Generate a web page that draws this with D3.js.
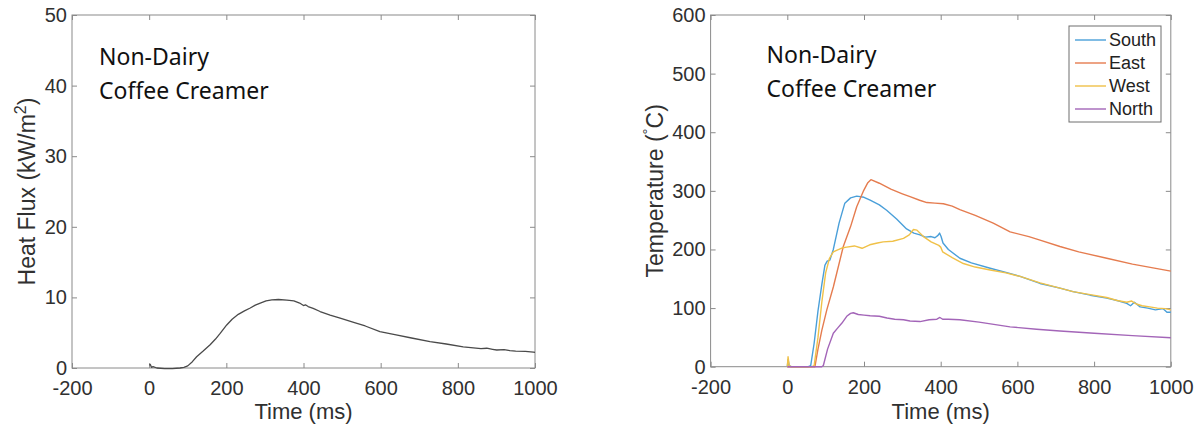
<!DOCTYPE html>
<html>
<head>
<meta charset="utf-8">
<script src="https://cdn.jsdelivr.net/npm/d3@7"></script>
<style>
  html, body { margin: 0; padding: 0; background: #fff; }
  svg { display: block; }
</style>
</head>
<body>
<svg id="chart" width="1201" height="433"></svg>
<script>
// Time axis ticks (ms), shared by both panels
const timeTicks = [-200, 0, 200, 400, 600, 800, 1000];
const fluxTicks = [0, 10, 20, 30, 40, 50];
const tempTicks = [0, 100, 200, 300, 400, 500, 600];

// Heat flux gauge record (kW/m^2)
const fluxTime  = [0, 3, 6, 10, 20, 40, 60, 80, 90, 100, 112, 123, 140, 158, 172, 184, 201, 215, 231, 247, 262, 275, 288, 303, 318, 335, 357, 375, 390, 400, 405, 412, 425, 443, 469, 495, 530, 560, 598, 640, 680, 728, 770, 814, 860, 875, 890, 901, 920, 935, 950, 975, 996, 1000];
const fluxValue = [0.4, 0.5, 0.1, 0.2, 0.0, -0.1, -0.1, 0.0, 0.1, 0.3, 0.9, 1.6, 2.4, 3.3, 4.1, 4.9, 6.1, 6.9, 7.6, 8.1, 8.5, 8.9, 9.2, 9.5, 9.65, 9.7, 9.6, 9.5, 9.2, 8.85, 8.95, 8.7, 8.45, 8.0, 7.5, 7.05, 6.45, 5.95, 5.15, 4.7, 4.25, 3.75, 3.4, 3.0, 2.75, 2.8, 2.65, 2.55, 2.6, 2.45, 2.4, 2.35, 2.25, 2.2];

// Thermocouple records (deg C)
const seriesNames = ["South", "East", "West", "North"];

const southTime = [0, 2, 5, 10, 30, 55, 61, 70, 80, 90, 98, 104, 111, 120, 135, 150, 165, 181, 200, 216, 240, 259, 285, 311, 330, 346, 360, 375, 385, 393, 397, 401, 406, 420, 450, 480, 529, 570, 607, 659, 711, 745, 790, 833, 860, 885, 895, 905, 920, 940, 960, 980, 990, 1000];
const southTemp = [0, 12, 2, 0, 0, 0, 2, 40, 95, 140, 173, 180, 182, 200, 245, 279, 288, 291, 289, 284, 276, 267, 252, 235, 228, 225, 221, 222, 220, 224, 228, 222, 211, 200, 185, 177, 168, 161, 154, 142, 134, 128, 122, 117, 113, 108, 104, 110, 102, 100, 97, 99, 93, 93];

const eastTime = [0, 10, 50, 72, 80, 90, 103, 120, 146, 165, 181, 198, 210, 218, 240, 270, 300, 320, 345, 364, 385, 407, 430, 450, 490, 537, 581, 630, 659, 711, 760, 833, 900, 950, 1000];
const eastTemp = [0, 0, 0, 0, 30, 62, 97, 136, 205, 239, 273, 299, 314, 319, 313, 303, 295, 290, 284, 280, 279, 278, 274, 268, 258, 245, 230, 222, 216, 205, 196, 185, 175, 169, 163];

const westTime = [0, 2, 5, 10, 40, 65, 70, 80, 90, 100, 110, 120, 130, 145, 155, 175, 195, 215, 235, 250, 275, 303, 318, 329, 338, 355, 375, 395, 400, 405, 430, 459, 490, 529, 570, 607, 659, 711, 745, 790, 833, 860, 885, 898, 910, 925, 945, 965, 985, 1000];
const westTemp = [0, 17, 2, 0, 0, 0, 2, 50, 110, 160, 185, 196, 199, 203, 204, 206, 202, 208, 211, 213, 214, 219, 225, 234, 233, 222, 213, 207, 204, 196, 186, 176, 170, 165, 160, 154, 143, 134, 128, 123, 118, 113, 110, 112, 107, 104, 102, 100, 99, 97];

const northTime = [0, 10, 50, 90, 94, 105, 120, 130, 142, 155, 165, 172, 185, 200, 216, 240, 260, 280, 303, 320, 346, 370, 390, 398, 405, 420, 450, 500, 581, 650, 711, 800, 900, 1000];
const northTemp = [0, 0, 0, 0, 2, 30, 57, 65, 74, 86, 91, 92, 89, 88, 87, 86, 83, 81, 80, 78, 77, 80, 81, 84, 81, 81, 80, 76, 68, 64, 61, 57, 53, 49.5];

const seriesColors = ["#4a9fd9", "#e57c4f", "#f0c148", "#a365b8"];

const svg = d3.select("#chart");
const tickFont = "'Liberation Sans', Arial, Helvetica, sans-serif";
const noteFont = "'Noto Sans', 'Open Sans', sans-serif";
const frameColor = "#8a8a8a";
const textColor = "#303030";

function drawPanel(cfg) {
  const x = d3.scaleLinear().domain([-200, 1000]).range([cfg.left, cfg.right]);
  const y = d3.scaleLinear().domain(cfg.yDomain).range([cfg.bottom, cfg.top]);
  const g = svg.append("g");
  const plain = d => String(d);

  const styleAxis = sel => {
    sel.select(".domain").remove();
    sel.selectAll(".tick line").attr("stroke", frameColor);
    sel.selectAll(".tick text")
      .attr("fill", textColor)
      .style("font-family", tickFont)
      .style("font-size", "20px");
  };

  g.append("g").attr("transform", `translate(0,${cfg.bottom})`)
    .call(d3.axisBottom(x).tickValues(timeTicks).tickFormat(plain)
      .tickSizeInner(-5).tickSizeOuter(0).tickPadding(13))
    .call(styleAxis);
  g.append("g").attr("transform", `translate(0,${cfg.top})`)
    .call(d3.axisTop(x).tickValues(timeTicks).tickFormat("")
      .tickSizeInner(-5).tickSizeOuter(0))
    .call(styleAxis);
  g.append("g").attr("transform", `translate(${cfg.left},0)`)
    .call(d3.axisLeft(y).tickValues(cfg.yTicks).tickFormat(plain)
      .tickSizeInner(-5).tickSizeOuter(0).tickPadding(5))
    .call(styleAxis);
  g.append("g").attr("transform", `translate(${cfg.right},0)`)
    .call(d3.axisRight(y).tickValues(cfg.yTicks).tickFormat("")
      .tickSizeInner(-5).tickSizeOuter(0))
    .call(styleAxis);

  // axes box
  g.append("rect")
    .attr("x", cfg.left).attr("y", cfg.top)
    .attr("width", cfg.right - cfg.left).attr("height", cfg.bottom - cfg.top)
    .attr("fill", "none").attr("stroke", frameColor).attr("stroke-width", 1);

  const line = d3.line().x(d => x(d[0])).y(d => y(d[1]));
  cfg.series.forEach(s => {
    g.append("path")
      .datum(d3.zip(s.t, s.v))
      .attr("d", line)
      .attr("fill", "none")
      .attr("stroke", s.color)
      .attr("stroke-width", s.width)
      .attr("stroke-linejoin", "round");
  });

  // x label
  g.append("text")
    .attr("x", (cfg.left + cfg.right) / 2).attr("y", 419)
    .attr("text-anchor", "middle").attr("fill", textColor)
    .style("font-family", tickFont).style("font-size", "22px")
    .text("Time (ms)");

  // y label
  const yl = g.append("text")
    .attr("transform", `translate(${cfg.yLabelX},${(cfg.top + cfg.bottom) / 2}) rotate(-90)`)
    .attr("text-anchor", "middle").attr("fill", textColor)
    .style("font-family", tickFont).style("font-size", "23px");
  cfg.yLabel(yl);

  // note
  const note = g.append("text").attr("fill", "#111")
    .style("font-family", noteFont).style("font-size", "23px");
  note.append("tspan").attr("x", cfg.noteX).attr("y", cfg.noteY).text("Non-Dairy");
  note.append("tspan").attr("x", cfg.noteX).attr("y", cfg.noteY + cfg.noteGap).text("Coffee Creamer");

  return { x, y, g };
}

drawPanel({
  left: 72, right: 535, top: 15, bottom: 368,
  yDomain: [0, 50], yTicks: fluxTicks, yLabelX: 35,
  yLabel: t => {
    t.append("tspan").text("Heat Flux (kW/m");
    t.append("tspan").attr("dy", -9).style("font-size", "16px").text("2");
    t.append("tspan").attr("dy", 9).text(")");
  },
  noteX: 99, noteY: 64.5, noteGap: 34.5,
  series: [{ t: fluxTime, v: fluxValue, color: "#4a4a4a", width: 1.3 }]
});

const right = drawPanel({
  left: 710.6, right: 1170.8, top: 15, bottom: 366.7,
  yDomain: [0, 600], yTicks: tempTicks, yLabelX: 663,
  yLabel: t => {
    t.append("tspan").text("Temperature (");
    t.append("tspan").attr("dy", -10).style("font-size", "15px").text("\u00B0");
    t.append("tspan").attr("dy", 10).text("C)");
  },
  noteX: 766.5, noteY: 63, noteGap: 34,
  series: [
    { t: southTime, v: southTemp, color: seriesColors[0], width: 1.4 },
    { t: eastTime,  v: eastTemp,  color: seriesColors[1], width: 1.4 },
    { t: westTime,  v: westTemp,  color: seriesColors[2], width: 1.4 },
    { t: northTime, v: northTemp, color: seriesColors[3], width: 1.4 }
  ]
});

// legend
const lg = right.g.append("g");
lg.append("rect").attr("x", 1069).attr("y", 26).attr("width", 92).attr("height", 96)
  .attr("fill", "#fff").attr("stroke", "#6e6e6e").attr("stroke-width", 1);
seriesNames.forEach((name, i) => {
  const cy = 40 + i * 23;
  lg.append("line").attr("x1", 1075).attr("x2", 1106).attr("y1", cy).attr("y2", cy)
    .attr("stroke", seriesColors[i]).attr("stroke-width", 1.4);
  lg.append("text").attr("x", 1109).attr("y", cy).attr("dy", "0.35em")
    .attr("fill", "#222").style("font-family", tickFont).style("font-size", "18px")
    .text(name);
});
</script>
</body>
</html>
